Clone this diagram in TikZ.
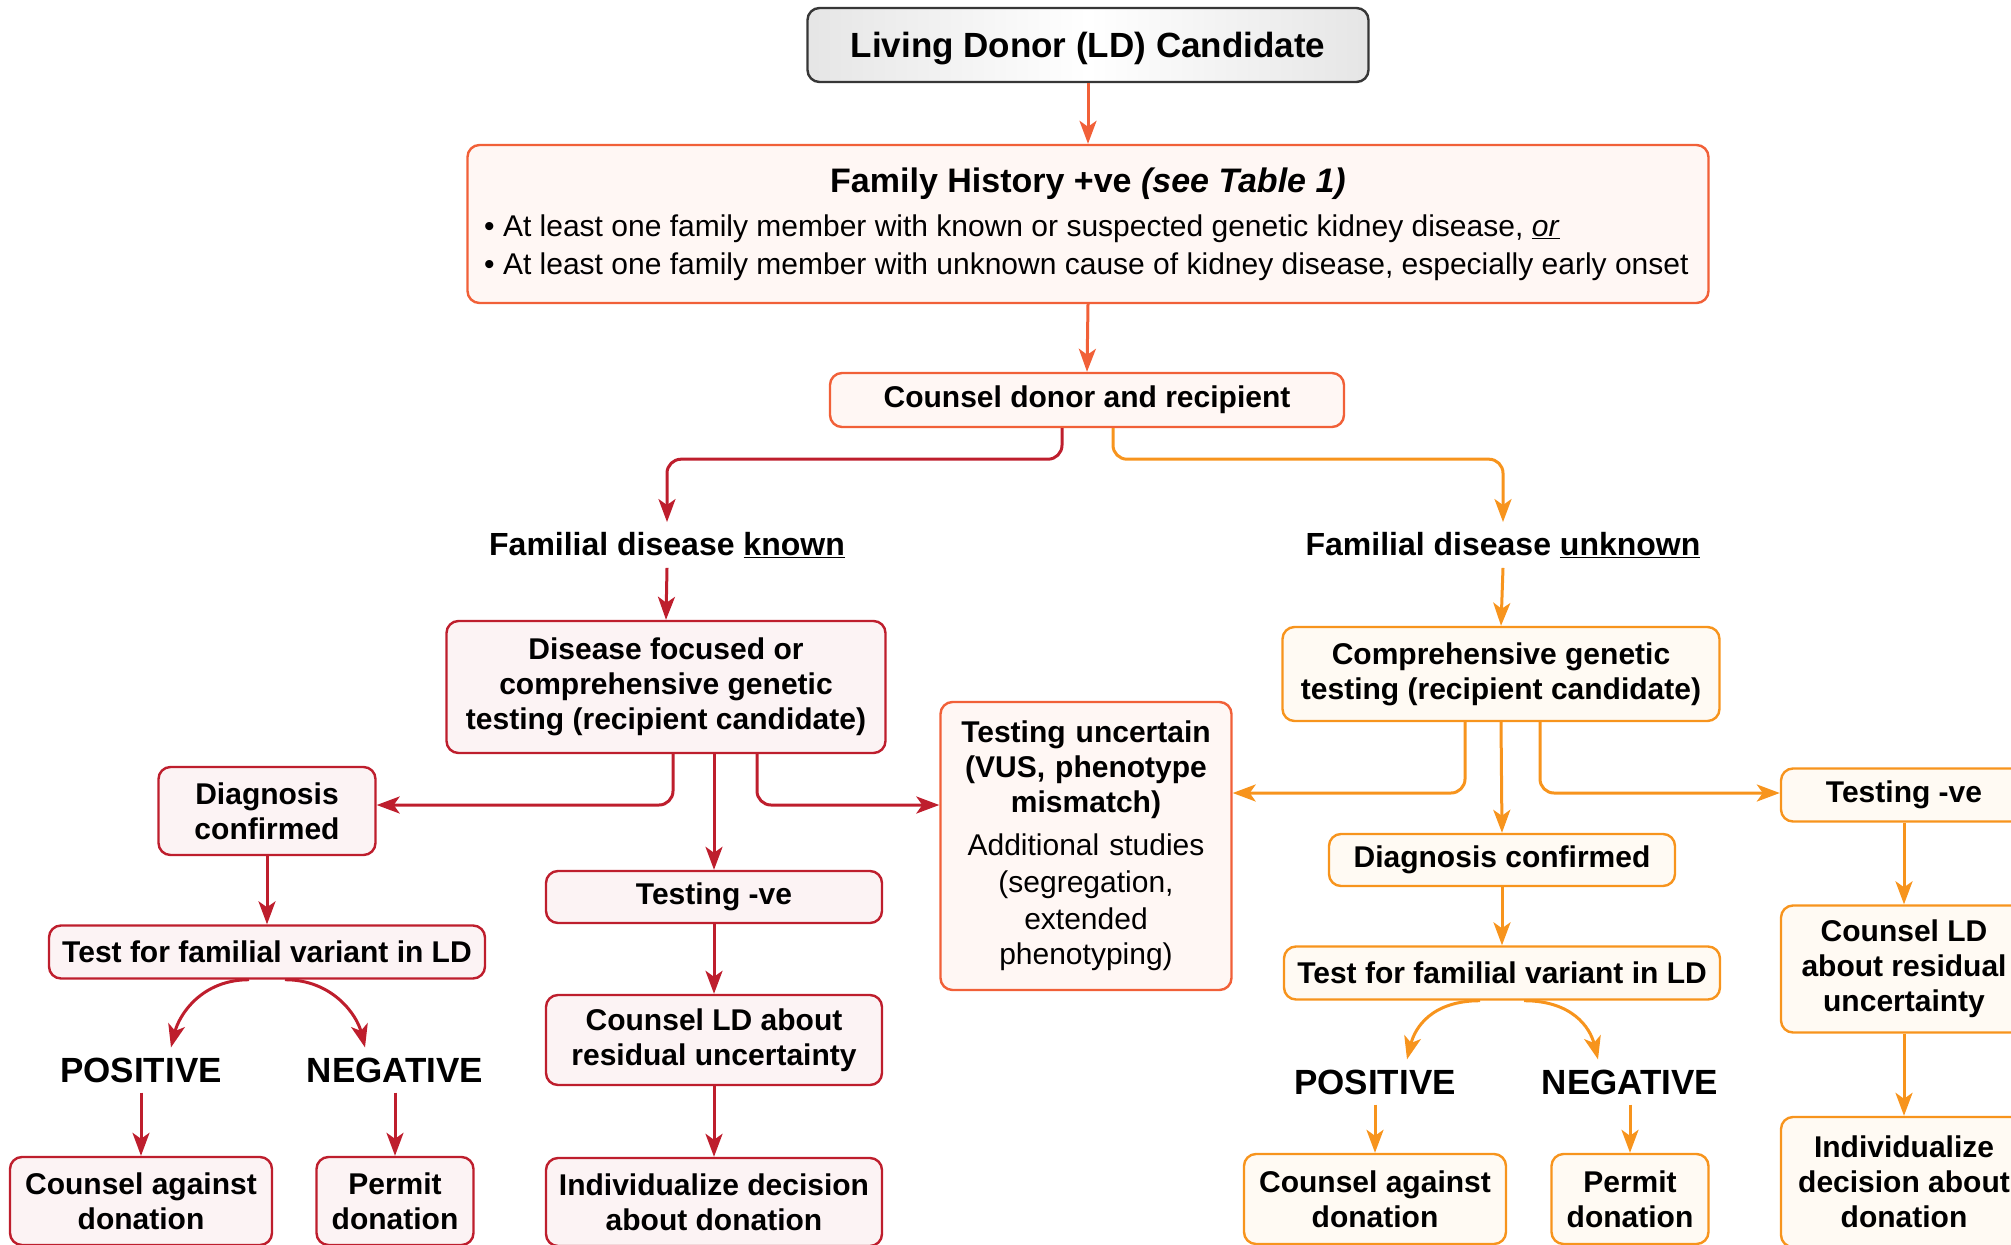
\documentclass[tikz,border=0pt]{standalone}
\usepackage{fontspec}
\setmainfont{Liberation Sans}
\usetikzlibrary{arrows.meta}
\definecolor{ored}{RGB}{241,96,56}
\definecolor{oredfill}{RGB}{255,247,244}
\definecolor{cred}{RGB}{190,30,45}
\definecolor{credfill}{RGB}{252,243,244}
\definecolor{cor}{RGB}{247,148,29}
\definecolor{corfill}{RGB}{255,250,243}
\definecolor{dgray}{RGB}{55,55,55}
\tikzset{
  box/.style={draw, rounded corners=12pt, line width=2.4pt, align=center, inner sep=0pt,
    font=\bfseries\fontsize{30}{35}\selectfont},
  topbox/.style={box, draw=dgray, left color=black!10, right color=black!10, middle color=white,
    font=\bfseries\fontsize{35}{40}\selectfont, text height=29pt, text depth=4pt},
  obox/.style={box, draw=ored, fill=oredfill},
  redbox/.style={box, draw=cred, fill=credfill},
  orbox/.style={box, draw=cor, fill=corfill},
  arr/.style={line width=3pt, -{Stealth[length=23pt,width=17pt,inset=6pt]}, rounded corners=14pt},
  oarr/.style={arr, draw=ored},
  redarr/.style={arr, draw=cred},
  orarr/.style={arr, draw=cor},
  lab/.style={font=\bfseries\fontsize{32}{36}\selectfont, inner sep=10pt},
  big/.style={font=\bfseries\fontsize{35}{40}\selectfont, inner sep=10pt},
}
\begin{document}
\begin{tikzpicture}[x=1pt,y=-1pt]
\useasboundingbox (0,0) rectangle (2011,1245);
\clip (0,0) rectangle (2011,1245);

% top
\node[topbox, minimum width=561pt, minimum height=74pt] (ldc) at (1088,45) {Living Donor (LD) Candidate};
\node[obox, minimum width=1241pt, minimum height=158pt] (fam) at (1088,224) {};
\node[font=\bfseries\fontsize{34}{40}\selectfont, inner sep=0pt] (famt) at (1088,184) {Family History +ve \textit{(see Table 1)}};
\node[font=\fontsize{30}{34}\selectfont, anchor=mid west, inner sep=0pt] (famb1) at (484,234) {• At least one family member with known or suspected genetic kidney disease, \underline{\textit{or}}};
\node[font=\fontsize{30}{34}\selectfont, anchor=mid west, inner sep=0pt] (famb2) at (484,272) {• At least one family member with unknown cause of kidney disease, especially early onset};
\node[obox, minimum width=514pt, minimum height=54pt] (cns) at (1087,400) {Counsel donor and recipient};

\draw[oarr] (ldc.south) -- (fam.north);
\draw[oarr] (fam.south) -- (cns.north);

% labels
\node[lab] (known) at (667,545) {Familial disease \underline{known}};
\node[lab] (unknown) at (1503,545) {Familial disease \underline{unknown}};
\draw[redarr] ([xshift=-25pt]cns.south) -- ++(0,31) -| (known.north);
\draw[orarr] ([xshift=26pt]cns.south) -- ++(0,31) -| (unknown.north);

% left (red) column
\node[redbox, minimum width=439pt, minimum height=132pt] (dis) at (666,687) {Disease focused or\\comprehensive genetic\\testing (recipient candidate)};
\draw[redarr] (known.south) -- (dis.north);
\node[redbox, minimum width=217pt, minimum height=88pt] (diagL) at (267,811) {Diagnosis\\confirmed};
\node[redbox, minimum width=336pt, minimum height=52pt] (tveL) at (714,897) {Testing -ve};
\node[redbox, minimum width=336pt, minimum height=90pt] (cnsL) at (714,1040) {Counsel LD about\\residual uncertainty};
\node[redbox, minimum width=336pt, minimum height=88pt] (indL) at (714,1202) {Individualize decision\\about donation};
\node[redbox, minimum width=436pt, minimum height=53pt] (testL) at (267,952) {Test for familial variant in LD};
\node[big] (posL) at (141,1070) {POSITIVE};
\node[big] (negL) at (395,1070) {NEGATIVE};
\node[redbox, minimum width=262pt, minimum height=88pt] (agL) at (141,1201) {Counsel against\\donation};
\node[redbox, minimum width=157pt, minimum height=88pt] (pmL) at (395,1201) {Permit\\donation};

% uncertain
\node[obox, minimum width=291pt, minimum height=288pt, text width=285pt] (unc) at (1086,846)
  {Testing uncertain\\(VUS, phenotype\\mismatch)\\[6pt]\mdseries\fontsize{30}{37}\selectfont Additional studies\\(segregation,\\extended\\phenotyping)};

\draw[redarr] ([xshift=7pt]dis.south) |- ([yshift=6pt]diagL.east);
\draw[redarr] ([xshift=48pt]dis.south) -- (tveL.north);
\draw[redarr] ([xshift=91pt]dis.south) |- ([yshift=41pt]unc.west);
\draw[redarr] (diagL.south) -- (testL.north);
\draw[redarr] (tveL.south) -- (cnsL.north);
\draw[redarr] (cnsL.south) -- (indL.north);
\draw[redarr] ([xshift=-18pt]testL.south) .. controls +(-48,0) and +(8,-32) .. ([xshift=30pt]posL.north);
\draw[redarr] ([xshift=18pt]testL.south) .. controls +(48,0) and +(-8,-32) .. ([xshift=-30pt]negL.north);
\draw[redarr] (posL.south) -- (agL.north);
\draw[redarr] (negL.south) -- (pmL.north);

% right (orange) column
\node[orbox, minimum width=437pt, minimum height=94pt] (comp) at (1501,674) {Comprehensive genetic\\testing (recipient candidate)};
\draw[orarr] (unknown.south) -- (comp.north);
\node[orbox, minimum width=346pt, minimum height=52pt] (diagR) at (1502,860) {Diagnosis confirmed};
\node[orbox, minimum width=436pt, minimum height=53pt] (testR) at (1502,973) {Test for familial variant in LD};
\node[big] (posR) at (1375,1082) {POSITIVE};
\node[big] (negR) at (1630,1082) {NEGATIVE};
\node[orbox, minimum width=262pt, minimum height=90pt] (agR) at (1375,1199) {Counsel against\\donation};
\node[orbox, minimum width=157pt, minimum height=90pt] (pmR) at (1630,1199) {Permit\\donation};
\node[orbox, minimum width=246pt, minimum height=53pt] (tveR) at (1904,795) {Testing -ve};
\node[orbox, minimum width=246pt, minimum height=127pt] (cnsR) at (1904,969) {Counsel LD\\about residual\\uncertainty};
\node[orbox, minimum width=246pt, minimum height=130pt] (indR) at (1904,1182) {Individualize\\decision about\\donation};

\draw[orarr] ([xshift=-36pt]comp.south) |- ([yshift=53pt]unc.east);
\draw[orarr] (comp.south) -- (diagR.north);
\draw[orarr] ([xshift=39pt]comp.south) |- ([yshift=2pt]tveR.west);
\draw[orarr] (diagR.south) -- (testR.north);
\draw[orarr] ([xshift=-22pt]testR.south) .. controls +(-48,0) and +(8,-32) .. ([xshift=32pt]posR.north);
\draw[orarr] ([xshift=22pt]testR.south) .. controls +(48,0) and +(-8,-32) .. ([xshift=-32pt]negR.north);
\draw[orarr] (posR.south) -- (agR.north);
\draw[orarr] (negR.south) -- (pmR.north);
\draw[orarr] (tveR.south) -- (cnsR.north);
\draw[orarr] (cnsR.south) -- (indR.north);
\end{tikzpicture}
\end{document}
